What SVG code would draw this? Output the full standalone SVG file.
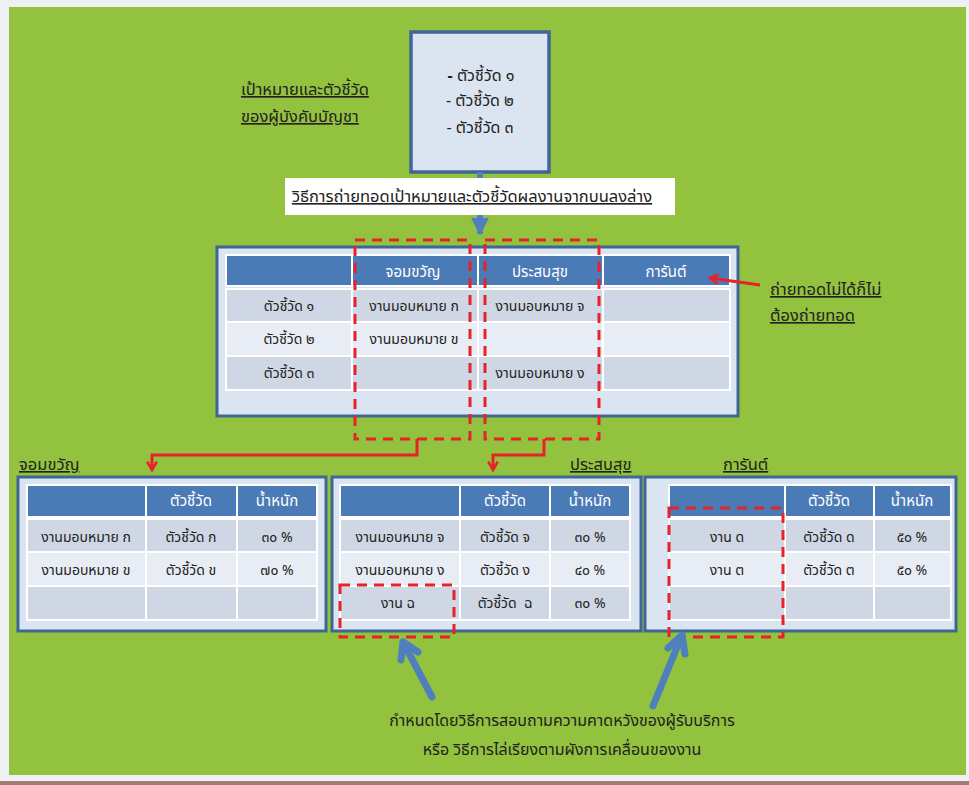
<svg xmlns="http://www.w3.org/2000/svg" width="969" height="785" viewBox="0 0 969 785">
<style>
text{font-family:"Noto Sans Thai","Noto Sans","DejaVu Sans",sans-serif;font-size:14px;fill:#222}
.c{text-anchor:middle}
.h{fill:#ffffff;font-size:15px}
.u{text-decoration:underline}
.l{font-size:16.5px}
.frame{fill:#dbe5f1;stroke:#3e6696;stroke-width:3}
.hd{fill:#4a7bb6;stroke:#ffffff;stroke-width:2}
.rd{fill:#cfd7e4;stroke:#ffffff;stroke-width:2}
.rl{fill:#e8edf5;stroke:#ffffff;stroke-width:2}
.dash{fill:none;stroke:#e8222a;stroke-width:3;stroke-dasharray:10 7}
.red{fill:none;stroke:#e8222a;stroke-width:3}
.blue{fill:none;stroke:#4f7fbd;stroke-width:7;stroke-linecap:round;stroke-linejoin:round}
</style>
<defs>
<marker id="rh" viewBox="0 0 10 10" refX="8" refY="5" markerWidth="4" markerHeight="4" orient="auto" markerUnits="strokeWidth">
<path d="M1,1 L8,5 L1,9" fill="none" stroke="#e8222a" stroke-width="2.2"/>
</marker>
<marker id="bh" viewBox="0 0 10 10" refX="9" refY="5" markerWidth="3" markerHeight="3" orient="auto" markerUnits="strokeWidth">
<path d="M0,0 L10,5 L0,10 z" fill="#4f7fbd"/>
</marker>
</defs>
<rect x="0" y="0" width="969" height="785" fill="#eef0f3"/>
<rect x="9" y="7" width="957" height="768" fill="#93c33e"/>
<rect x="0" y="781" width="969" height="4" fill="#a27c74"/>

<g id="goal-label">
<text x="241" y="95" class="u l">เป้าหมายและตัวชี้วัด</text>
<text x="241" y="122" class="u l">ของผู้บังคับบัญชา</text>
</g>

<g id="top-box">
<rect x="411" y="32" width="138" height="140" class="frame" style="stroke-width:3.5"/>
<text x="481" y="81" class="c" style="font-size:16px"><tspan font-weight="bold">-</tspan> ตัวชี้วัด ๑</text>
<text x="480" y="106" class="c" style="font-size:16px">- ตัวชี้วัด ๒</text>
<text x="480" y="133" class="c" style="font-size:16px">- ตัวชี้วัด ๓</text>
</g>

<g id="main-table">
<rect x="217" y="247" width="521" height="169" class="frame"/>
<rect x="226" y="255" width="126" height="31" class="hd"/>
<rect x="352" y="255" width="126" height="31" class="hd"/>
<rect x="478" y="255" width="125" height="31" class="hd"/>
<rect x="603" y="255" width="127" height="31" class="hd"/>
<rect x="226" y="289" width="126" height="33" class="rd"/>
<rect x="352" y="289" width="126" height="33" class="rd"/>
<rect x="478" y="289" width="125" height="33" class="rd"/>
<rect x="603" y="289" width="127" height="33" class="rd"/>
<rect x="226" y="322" width="126" height="34" class="rl"/>
<rect x="352" y="322" width="126" height="34" class="rl"/>
<rect x="478" y="322" width="125" height="34" class="rl"/>
<rect x="603" y="322" width="127" height="34" class="rl"/>
<rect x="226" y="356" width="126" height="34" class="rd"/>
<rect x="352" y="356" width="126" height="34" class="rd"/>
<rect x="478" y="356" width="125" height="34" class="rd"/>
<rect x="603" y="356" width="127" height="34" class="rd"/>
<text x="413" y="277" class="c h">จอมขวัญ</text>
<text x="540" y="277" class="c h">ประสบสุข</text>
<text x="666" y="277" class="c h">การันต์</text>
<text x="289" y="311" class="c">ตัวชี้วัด ๑</text>
<text x="414" y="311" class="c">งานมอบหมาย ก</text>
<text x="540" y="311" class="c">งานมอบหมาย จ</text>
<text x="289" y="344" class="c">ตัวชี้วัด ๒</text>
<text x="414" y="344" class="c">งานมอบหมาย ข</text>
<text x="289" y="378" class="c">ตัวชี้วัด ๓</text>
<text x="540" y="378" class="c">งานมอบหมาย ง</text>
</g>

<g id="dash-groups">
<rect x="355" y="240" width="115" height="199" class="dash"/>
<rect x="485" y="240" width="114" height="199" class="dash"/>
</g>

<g id="connectors">
<line x1="480" y1="172" x2="480" y2="234" stroke="#4f7fbd" stroke-width="6" marker-end="url(#bh)"/>
<polyline class="red" points="417,439 417,455 152,455 152,470" marker-end="url(#rh)"/>
<polyline class="red" points="544,439 544,455 493,455 493,470" marker-end="url(#rh)"/>
<line class="red" x1="760" y1="285" x2="710" y2="278" marker-end="url(#rh)"/>
</g>

<g id="method-box">
<rect x="285" y="178" width="390" height="37" fill="#ffffff"/>
<text x="472" y="202" class="c u l">วิธีการถ่ายทอดเป้าหมายและตัวชี้วัดผลงานจากบนลงล่าง</text>
</g>

<g id="note-label">
<text x="770" y="295" class="u l">ถ่ายทอดไม่ได้ก็ไม่</text>
<text x="770" y="321" class="u l">ต้องถ่ายทอด</text>
</g>

<g id="table-a">
<text x="19" y="470" class="u l">จอมขวัญ</text>
<rect x="18" y="477" width="308" height="154" class="frame"/>
<rect x="27" y="485" width="119" height="32" class="hd"/>
<rect x="146" y="485" width="91" height="32" class="hd"/>
<rect x="237" y="485" width="80" height="32" class="hd"/>
<rect x="27" y="519" width="119" height="33" class="rd"/>
<rect x="146" y="519" width="91" height="33" class="rd"/>
<rect x="237" y="519" width="80" height="33" class="rd"/>
<rect x="27" y="552" width="119" height="34" class="rl"/>
<rect x="146" y="552" width="91" height="34" class="rl"/>
<rect x="237" y="552" width="80" height="34" class="rl"/>
<rect x="27" y="586" width="119" height="34" class="rd"/>
<rect x="146" y="586" width="91" height="34" class="rd"/>
<rect x="237" y="586" width="80" height="34" class="rd"/>
<text x="191" y="506" class="c h">ตัวชี้วัด</text>
<text x="277" y="506" class="c h">น้ำหนัก</text>
<text x="86" y="542" class="c">งานมอบหมาย ก</text>
<text x="191" y="542" class="c">ตัวชี้วัด ก</text>
<text x="277" y="542" class="c">๓๐ %</text>
<text x="86" y="575" class="c">งานมอบหมาย ข</text>
<text x="191" y="575" class="c">ตัวชี้วัด ข</text>
<text x="277" y="575" class="c">๗๐ %</text>
</g>

<g id="table-b">
<text x="570" y="470" class="u l">ประสบสุข</text>
<rect x="332" y="477" width="309" height="154" class="frame"/>
<rect x="340" y="485" width="120" height="32" class="hd"/>
<rect x="460" y="485" width="90" height="32" class="hd"/>
<rect x="550" y="485" width="80" height="32" class="hd"/>
<rect x="340" y="519" width="120" height="33" class="rd"/>
<rect x="460" y="519" width="90" height="33" class="rd"/>
<rect x="550" y="519" width="80" height="33" class="rd"/>
<rect x="340" y="552" width="120" height="34" class="rl"/>
<rect x="460" y="552" width="90" height="34" class="rl"/>
<rect x="550" y="552" width="80" height="34" class="rl"/>
<rect x="340" y="586" width="120" height="34" class="rd"/>
<rect x="460" y="586" width="90" height="34" class="rd"/>
<rect x="550" y="586" width="80" height="34" class="rd"/>
<text x="505" y="506" class="c h">ตัวชี้วัด</text>
<text x="590" y="506" class="c h">น้ำหนัก</text>
<text x="400" y="542" class="c">งานมอบหมาย จ</text>
<text x="505" y="542" class="c">ตัวชี้วัด จ</text>
<text x="590" y="542" class="c">๓๐ %</text>
<text x="400" y="575" class="c">งานมอบหมาย ง</text>
<text x="505" y="575" class="c">ตัวชี้วัด ง</text>
<text x="590" y="575" class="c">๔๐ %</text>
<text x="398" y="608" class="c">งาน ฉ</text>
<text x="505" y="608" class="c" xml:space="preserve">ตัวชี้วัด  ฉ</text>
<text x="590" y="608" class="c">๓๐ %</text>
<rect x="340" y="585" width="114" height="52" class="dash"/>
</g>

<g id="table-c">
<text x="723" y="470" class="u l">การันต์</text>
<rect x="645" y="477" width="311" height="154" class="frame"/>
<rect x="669" y="485" width="116" height="32" class="hd"/>
<rect x="785" y="485" width="89" height="32" class="hd"/>
<rect x="874" y="485" width="77" height="32" class="hd"/>
<rect x="669" y="519" width="116" height="33" class="rd"/>
<rect x="785" y="519" width="89" height="33" class="rd"/>
<rect x="874" y="519" width="77" height="33" class="rd"/>
<rect x="669" y="552" width="116" height="34" class="rl"/>
<rect x="785" y="552" width="89" height="34" class="rl"/>
<rect x="874" y="552" width="77" height="34" class="rl"/>
<rect x="669" y="586" width="116" height="34" class="rd"/>
<rect x="785" y="586" width="89" height="34" class="rd"/>
<rect x="874" y="586" width="77" height="34" class="rd"/>
<text x="829" y="506" class="c h">ตัวชี้วัด</text>
<text x="912" y="506" class="c h">น้ำหนัก</text>
<text x="727" y="542" class="c">งาน ด</text>
<text x="829" y="542" class="c">ตัวชี้วัด ด</text>
<text x="912" y="542" class="c">๕๐ %</text>
<text x="727" y="575" class="c">งาน ต</text>
<text x="829" y="575" class="c">ตัวชี้วัด ต</text>
<text x="912" y="575" class="c">๕๐ %</text>
<rect x="669" y="508" width="114" height="129" class="dash"/>
</g>

<g id="blue-arrows">
<path class="blue" d="M432,697 L403,642 M403,642 L401,660 M403,642 L418,652"/>
<path class="blue" d="M653,706 L682,635 M682,635 L668,648 M682,635 L685,654"/>
</g>

<g id="bottom-note">
<text x="562" y="726" class="c" style="font-size:16px">กำหนดโดยวิธีการสอบถามความคาดหวังของผู้รับบริการ</text>
<text x="562" y="755" class="c" style="font-size:16px">หรือ วิธีการไล่เรียงตามผังการเคลื่อนของงาน</text>
</g>
</svg>
